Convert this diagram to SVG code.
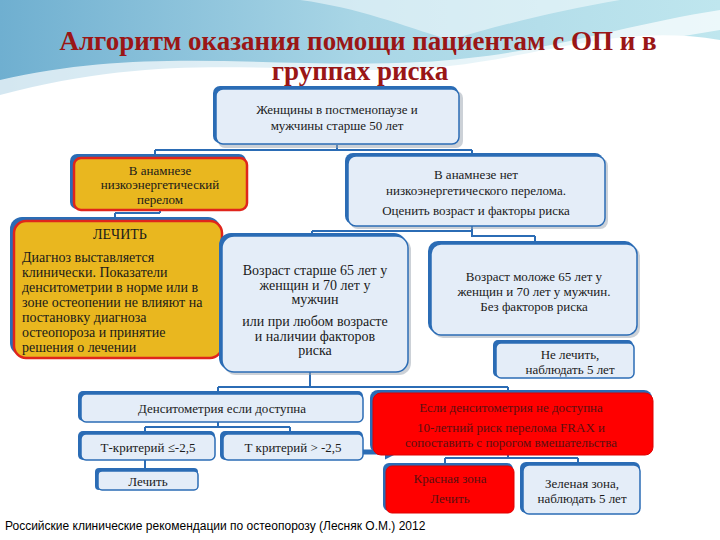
<svg xmlns="http://www.w3.org/2000/svg" width="720" height="540" viewBox="0 0 720 540">
<defs>
<linearGradient id="sky" x1="0" y1="0" x2="1" y2="0">
<stop offset="0" stop-color="#6FAFD0"/>
<stop offset="0.5" stop-color="#A9D6E6"/>
<stop offset="1" stop-color="#BFE6EE"/>
</linearGradient>
<marker id="ah" viewBox="0 0 10 10" refX="2" refY="5" markerWidth="3" markerHeight="3" orient="auto">
<path d="M0,0 L10,5 L0,10 z" fill="#2B6CB5"/>
</marker>
</defs>
<style>
.t{font-family:'Liberation Serif','Times New Roman',Times,serif;font-size:13px;fill:#1a1a1a;text-anchor:middle}
.tl{font-family:'Liberation Serif','Times New Roman',Times,serif;font-size:14px;fill:#1a1a1a}
.tr{font-family:'Liberation Serif','Times New Roman',Times,serif;font-size:13px;fill:#5a1010;text-anchor:middle}
.title{font-family:'Liberation Serif','Times New Roman',serif;font-weight:700;font-size:27px;fill:#9A1616;text-anchor:middle}
.sh{fill:#2B6CB5}
.bb{fill:#E4EDF8;stroke:#2B6CB5;stroke-width:1.5}
.yb{fill:#E9B71F;stroke:#E0251C;stroke-width:2.5}
.rb{fill:#FF0000;stroke:#E00000;stroke-width:1}
.gs{fill:#9aa4b0;opacity:0.5}
.cn{fill:none;stroke:#2B6CB5;stroke-width:2}
</style>
<rect width="720" height="540" fill="#FFFFFF"/>
<g id="background">
<path d="M0,0 H720 V40 C600,20 520,70 380,70 C250,70 150,55 0,95 Z" fill="url(#sky)"/>
<path d="M0,80 C150,45 280,70 420,62 C540,56 620,25 720,10 V30 C620,45 540,72 420,74 C280,78 150,60 0,100 Z" fill="#FFFFFF" opacity="0.7"/>
<path d="M300,0 C360,8 400,25 450,40 C500,25 560,10 620,0 Z" fill="#FFFFFF" opacity="0.5"/>
</g>
<g id="title">
<text class="title" x="358" y="50">Алгоритм оказания помощи пациентам с ОП и в</text>
<text class="title" x="360" y="80">группах риска</text>
</g>
<g id="connectors">
<path class="cn" d="M337,145 V150 M155,150 H472 M155,150 V157 M472,150 V155"/>
<path class="cn" d="M115,213 H160 M160,210 V213 M115,213 V220"/>
<path class="cn" d="M312,231 H472 M472,226 V236 H535 M535,236 V242 M312,231 V234"/>
<path class="cn" d="M310,372 V387 M218,387 H508 M218,387 V393 M508,387 V393"/>
<path class="cn" d="M145,427 H290 M218,422 V427 M145,427 V433 M290,427 V433 M145,460 V470"/>
<path class="cn" d="M445,458 H578 M508,455 V458 M445,458 V465 M578,458 V464"/>
<path d="M363,452 H388" fill="none" stroke="#2B6CB5" stroke-width="5" marker-end="url(#ah)"/>
</g>
<g id="n-top">
<rect class="gs" x="218" y="91" width="245" height="57" rx="7"/>
<rect class="sh" x="213" y="86" width="245" height="57" rx="7"/>
<rect class="bb" x="216" y="89" width="243" height="55" rx="7"/>
<text class="t" x="337" y="114">Женщины в постменопаузе и</text>
<text class="t" x="337" y="130">мужчины старше 50 лет</text>
</g>
<g id="n-fracture">
<rect class="sh" x="70" y="154" width="176" height="55" rx="7"/>
<rect class="yb" x="74" y="158" width="173" height="52" rx="7"/>
<text class="t" x="160" y="175">В анамнезе</text>
<text class="t" x="160" y="189">низкоэнергетический</text>
<text class="t" x="160" y="204">перелом</text>
</g>
<g id="n-nofracture">
<rect class="gs" x="350" y="158" width="258" height="71" rx="8"/>
<rect class="sh" x="345" y="153" width="258" height="71" rx="8"/>
<rect class="bb" x="348" y="156" width="257" height="70" rx="8"/>
<text class="t" x="476" y="179">В анамнезе нет</text>
<text class="t" x="476" y="195">низкоэнергетического перелома.</text>
<text class="t" x="476" y="215">Оценить возраст и факторы риска</text>
</g>
<g id="n-treat">
<rect class="sh" x="10" y="217" width="210" height="138" rx="12"/>
<rect class="yb" x="14" y="221" width="208" height="137" rx="12"/>
<text class="t" x="120" y="239" style="font-size:14px">ЛЕЧИТЬ</text>
<text class="tl" x="22" y="262">Диагноз выставляется</text>
<text class="tl" x="22" y="277">клинически. Показатели</text>
<text class="tl" x="22" y="292">денситометрии в норме или в</text>
<text class="tl" x="22" y="307">зоне остеопении не влияют на</text>
<text class="tl" x="22" y="322">постановку диагноза</text>
<text class="tl" x="22" y="337">остеопороза и принятие</text>
<text class="tl" x="22" y="352">решения о лечении</text>
</g>
<g id="n-older">
<rect class="gs" x="224" y="238" width="187" height="137" rx="12"/>
<rect class="sh" x="219" y="233" width="187" height="137" rx="12"/>
<rect class="bb" x="222" y="236" width="186" height="136" rx="12"/>
<text class="t" x="315" y="275" style="font-size:14px">Возраст старше 65 лет у</text>
<text class="t" x="315" y="290" style="font-size:14px">женщин и 70 лет у</text>
<text class="t" x="315" y="304" style="font-size:14px">мужчин</text>
<text class="t" x="315" y="326" style="font-size:14px">или при любом возрасте</text>
<text class="t" x="315" y="341" style="font-size:14px">и наличии факторов</text>
<text class="t" x="315" y="355" style="font-size:14px">риска</text>
</g>
<g id="n-younger">
<rect class="gs" x="433" y="246" width="207" height="92" rx="10"/>
<rect class="sh" x="428" y="241" width="207" height="92" rx="10"/>
<rect class="bb" x="431" y="244" width="206" height="91" rx="10"/>
<text class="t" x="534" y="281">Возраст моложе 65 лет у</text>
<text class="t" x="534" y="296">женщин и 70 лет у мужчин.</text>
<text class="t" x="534" y="311">Без факторов риска</text>
</g>
<g id="n-notreat">
<rect class="sh" x="493" y="340" width="140" height="37" rx="5"/>
<rect class="bb" x="496" y="343" width="138" height="35" rx="5"/>
<text class="t" x="570" y="359">Не лечить,</text>
<text class="t" x="570" y="374">наблюдать 5 лет</text>
</g>
<g id="n-dens">
<rect class="sh" x="78" y="391" width="285" height="30" rx="5"/>
<rect class="bb" x="81" y="394" width="282" height="28" rx="5"/>
<text class="t" x="222" y="413">Денситометрия если доступна</text>
</g>
<g id="n-tlow">
<rect class="sh" x="78" y="431" width="137" height="29" rx="5"/>
<rect class="bb" x="81" y="434" width="134" height="26" rx="5"/>
<text class="t" x="148" y="452">Т-критерий ≤-2,5</text>
</g>
<g id="n-thigh">
<rect class="sh" x="220" y="431" width="143" height="29" rx="5"/>
<rect class="bb" x="223" y="434" width="140" height="26" rx="5"/>
<text class="t" x="293" y="452">Т критерий &gt; -2,5</text>
</g>
<g id="n-treat2">
<rect class="sh" x="95" y="468" width="103" height="22" rx="4"/>
<rect class="bb" x="98" y="471" width="100" height="19" rx="4"/>
<text class="t" x="148" y="486">Лечить</text>
</g>
<g id="n-frax">
<rect class="sh" x="370" y="390" width="282" height="63" rx="8"/>
<rect class="rb" x="373" y="393" width="280" height="62" rx="8"/>
<text class="tr" x="511" y="412">Если денситометрия не доступна</text>
<text class="tr" x="511" y="432">10-летний риск перелома FRAX и</text>
<text class="tr" x="511" y="447">сопоставить с порогом вмешательства</text>
</g>
<g id="n-red">
<rect class="sh" x="383" y="463" width="130" height="48" rx="6"/>
<rect class="rb" x="386" y="466" width="128" height="47" rx="6"/>
<text class="tr" x="450" y="483">Красная зона</text>
<text class="tr" x="450" y="503">Лечить</text>
</g>
<g id="n-green">
<rect class="sh" x="520" y="462" width="120" height="51" rx="6"/>
<rect class="bb" x="523" y="465" width="117" height="49" rx="6"/>
<text class="t" x="582" y="488">Зеленая зона,</text>
<text class="t" x="582" y="503">наблюдать 5 лет</text>
</g>
<g id="footer">
<text x="5" y="530" style="font-family:'Liberation Sans',Arial,sans-serif;font-size:12px;fill:#000">Российские клинические рекомендации по остеопорозу (Лесняк О.М.) 2012</text>
</g>
</svg>
